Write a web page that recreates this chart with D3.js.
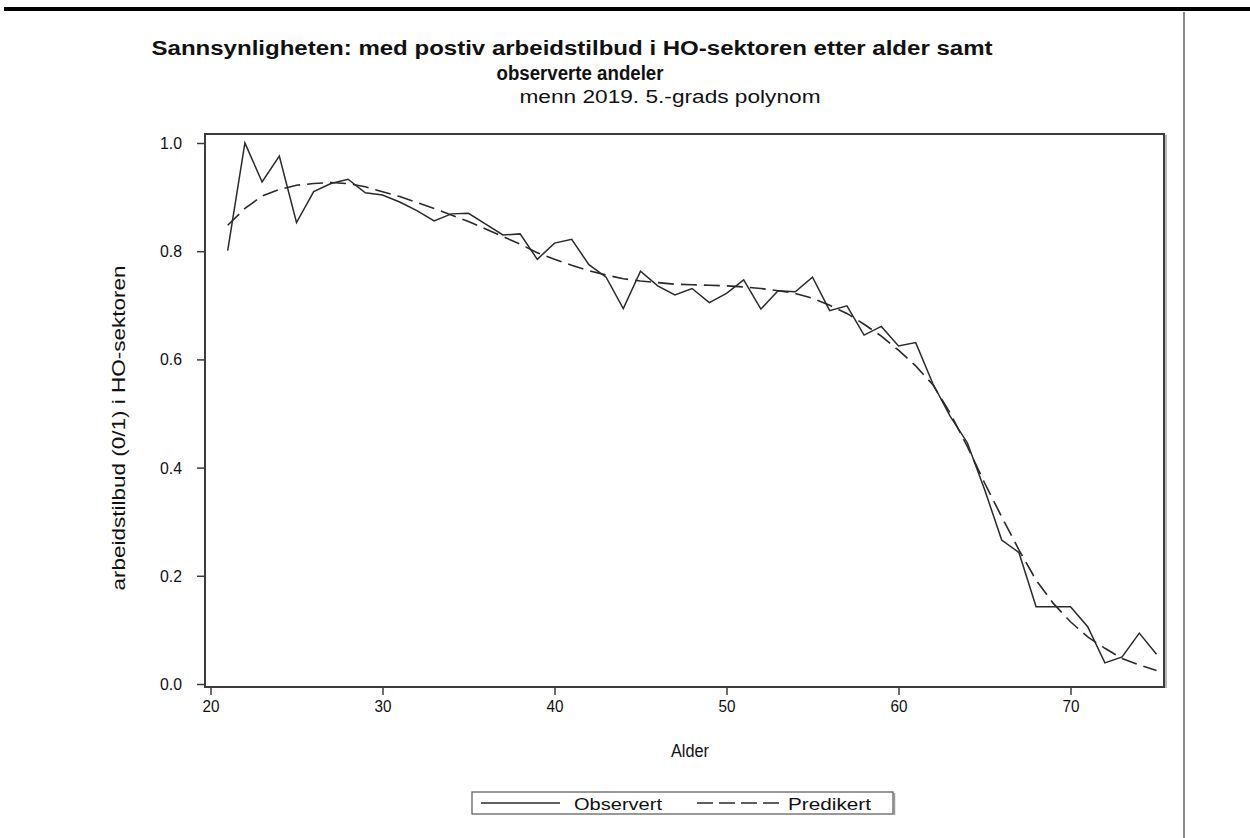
<!DOCTYPE html>
<html>
<head>
<meta charset="utf-8">
<script src="https://cdn.jsdelivr.net/npm/d3@7"></script>
<style>
  html, body { margin: 0; padding: 0; background: #fff; }
  svg { display: block; }
  text { font-family: "Liberation Sans", Arial, Helvetica, sans-serif; fill: #111; }
</style>
</head>
<body>
<svg id="chart" width="1250" height="838"></svg>
<script>
// Alder (år)
const ages = [21,22,23,24,25,26,27,28,29,30,31,32,33,34,35,36,37,38,39,40,
              41,42,43,44,45,46,47,48,49,50,51,52,53,54,55,56,57,58,59,60,
              61,62,63,64,65,66,67,68,69,70,71,72,73,74,75];

// Observerte andeler med positivt arbeidstilbud
const observed = [0.801,1.000,0.928,0.976,0.853,0.910,0.925,0.933,0.908,0.904,
                  0.891,0.875,0.856,0.869,0.870,0.850,0.830,0.832,0.785,0.815,
                  0.822,0.775,0.752,0.694,0.763,0.736,0.719,0.731,0.705,0.722,
                  0.747,0.693,0.727,0.725,0.752,0.690,0.699,0.645,0.661,0.625,
                  0.631,0.555,0.495,0.446,0.360,0.266,0.243,0.143,0.143,0.143,
                  0.106,0.039,0.050,0.094,0.055];

// Predikert sannsynlighet, 5.-grads polynom
const predicted = [0.848,0.879,0.902,0.914,0.922,0.925,0.927,0.925,0.919,0.910,
                   0.901,0.890,0.879,0.867,0.855,0.841,0.827,0.813,0.797,0.785,
                   0.774,0.764,0.756,0.749,0.745,0.742,0.739,0.738,0.737,0.736,
                   0.734,0.731,0.727,0.722,0.713,0.700,0.685,0.665,0.643,0.617,
                   0.588,0.553,0.501,0.439,0.372,0.309,0.248,0.192,0.149,0.115,
                   0.087,0.066,0.047,0.035,0.025];

const xTicks = [20, 30, 40, 50, 60, 70];
const yTicks = [0.0, 0.2, 0.4, 0.6, 0.8, 1.0];

const titleLines = [
  "Sannsynligheten: med postiv arbeidstilbud i HO-sektoren etter alder samt",
  "observerte andeler"
];
const subtitle = "menn 2019. 5.-grads polynom";
const xLabel = "Alder";
const yLabel = "arbeidstilbud (0/1) i HO-sektoren";
const legendLabels = ["Observert", "Predikert"];

const svg = d3.select("#chart");

// Plot frame
const frame = { left: 205, top: 134, right: 1164, bottom: 687 };

const x = d3.scaleLinear().domain([20, 75]).range([210.5, 1156.5]);
const y = d3.scaleLinear().domain([0, 1]).range([684, 143]);

// Page rule at top and the vertical margin rule on the right
svg.append("rect").attr("x", 4).attr("y", 7).attr("width", 1246).attr("height", 4).attr("fill", "#000");
svg.append("line").attr("x1", 1184).attr("x2", 1184).attr("y1", 12).attr("y2", 838)
   .attr("stroke", "#8a8a8a").attr("stroke-width", 2);

// Titles (condensed to the widths of the original layout)
svg.append("text").attr("x", 572).attr("y", 55).attr("text-anchor", "middle")
   .attr("font-size", 20).attr("font-weight", "bold")
   .attr("textLength", 841).attr("lengthAdjust", "spacingAndGlyphs")
   .text(titleLines[0]);
svg.append("text").attr("x", 580).attr("y", 80).attr("text-anchor", "middle")
   .attr("font-size", 20).attr("font-weight", "bold")
   .attr("textLength", 167).attr("lengthAdjust", "spacingAndGlyphs")
   .text(titleLines[1]);
svg.append("text").attr("x", 670).attr("y", 103).attr("text-anchor", "middle")
   .attr("font-size", 17.5)
   .attr("textLength", 301).attr("lengthAdjust", "spacingAndGlyphs")
   .text(subtitle);

// Frame shadow and frame
svg.append("line").attr("x1", frame.right + 2).attr("x2", frame.right + 2)
   .attr("y1", frame.top + 1).attr("y2", frame.bottom + 1)
   .attr("stroke", "#a0a0a0").attr("stroke-width", 1.5);
svg.append("rect")
   .attr("x", frame.left).attr("y", frame.top)
   .attr("width", frame.right - frame.left).attr("height", frame.bottom - frame.top)
   .attr("fill", "none").attr("stroke", "#3c3c3c").attr("stroke-width", 2);

// Axes
const yAxis = d3.axisLeft(y).tickValues(yTicks).tickFormat(d3.format(".1f"))
  .tickSize(8).tickPadding(15);
const gy = svg.append("g").attr("transform", `translate(${frame.left},0)`).call(yAxis);
gy.select(".domain").remove();
gy.selectAll(".tick line").attr("stroke", "#3c3c3c").attr("stroke-width", 1.5);
gy.selectAll(".tick text").attr("font-size", 17).attr("fill", "#111")
  .attr("font-family", "Liberation Sans, Arial, sans-serif")
  .attr("textLength", 22).attr("lengthAdjust", "spacingAndGlyphs");

const xAxis = d3.axisBottom(x).tickValues(xTicks).tickFormat(d3.format("d"))
  .tickSize(8).tickPadding(5);
const gx = svg.append("g").attr("transform", `translate(0,${frame.bottom})`).call(xAxis);
gx.select(".domain").remove();
gx.selectAll(".tick line").attr("stroke", "#3c3c3c").attr("stroke-width", 1.5);
gx.selectAll(".tick text").attr("font-size", 17).attr("fill", "#111")
  .attr("font-family", "Liberation Sans, Arial, sans-serif")
  .attr("textLength", 17).attr("lengthAdjust", "spacingAndGlyphs");

// Axis labels
svg.append("text").attr("x", 690).attr("y", 757).attr("text-anchor", "middle")
   .attr("font-size", 18).attr("textLength", 38).attr("lengthAdjust", "spacingAndGlyphs")
   .text(xLabel);
svg.append("text")
   .attr("transform", `translate(125,428) rotate(-90)`)
   .attr("text-anchor", "middle").attr("font-size", 18.5)
   .attr("textLength", 325).attr("lengthAdjust", "spacingAndGlyphs")
   .text(yLabel);

// Series
const obsData = ages.map((a, i) => ({ age: a, v: observed[i] }));
const predData = ages.map((a, i) => ({ age: a, v: predicted[i] }));
const line = d3.line().x(d => x(d.age)).y(d => y(d.v));

svg.append("path").datum(predData).attr("d", line)
   .attr("fill", "none").attr("stroke", "#2a2a2a").attr("stroke-width", 1.6)
   .attr("stroke-dasharray", "16,7");
svg.append("path").datum(obsData).attr("d", line)
   .attr("fill", "none").attr("stroke", "#2a2a2a").attr("stroke-width", 1.5)
   .attr("stroke-linejoin", "miter");

// Legend
const lg = { left: 472, top: 792, right: 893, bottom: 814 };
svg.append("line").attr("x1", lg.right + 1.5).attr("x2", lg.right + 1.5)
   .attr("y1", lg.top + 1).attr("y2", lg.bottom + 1)
   .attr("stroke", "#9a9a9a").attr("stroke-width", 1.5);
svg.append("rect").attr("x", lg.left).attr("y", lg.top)
   .attr("width", lg.right - lg.left).attr("height", lg.bottom - lg.top)
   .attr("fill", "#fff").attr("stroke", "#555").attr("stroke-width", 1.2);
const ly = 803;
svg.append("line").attr("x1", 481).attr("x2", 560).attr("y1", ly).attr("y2", ly)
   .attr("stroke", "#2a2a2a").attr("stroke-width", 1.5);
svg.append("text").attr("x", 574).attr("y", 809.5).attr("font-size", 17)
   .attr("textLength", 88).attr("lengthAdjust", "spacingAndGlyphs")
   .text(legendLabels[0]);
svg.append("line").attr("x1", 697).attr("x2", 780).attr("y1", ly).attr("y2", ly)
   .attr("stroke", "#2a2a2a").attr("stroke-width", 1.5).attr("stroke-dasharray", "16,6");
svg.append("text").attr("x", 788).attr("y", 809.5).attr("font-size", 17)
   .attr("textLength", 83).attr("lengthAdjust", "spacingAndGlyphs")
   .text(legendLabels[1]);
</script>
</body>
</html>
